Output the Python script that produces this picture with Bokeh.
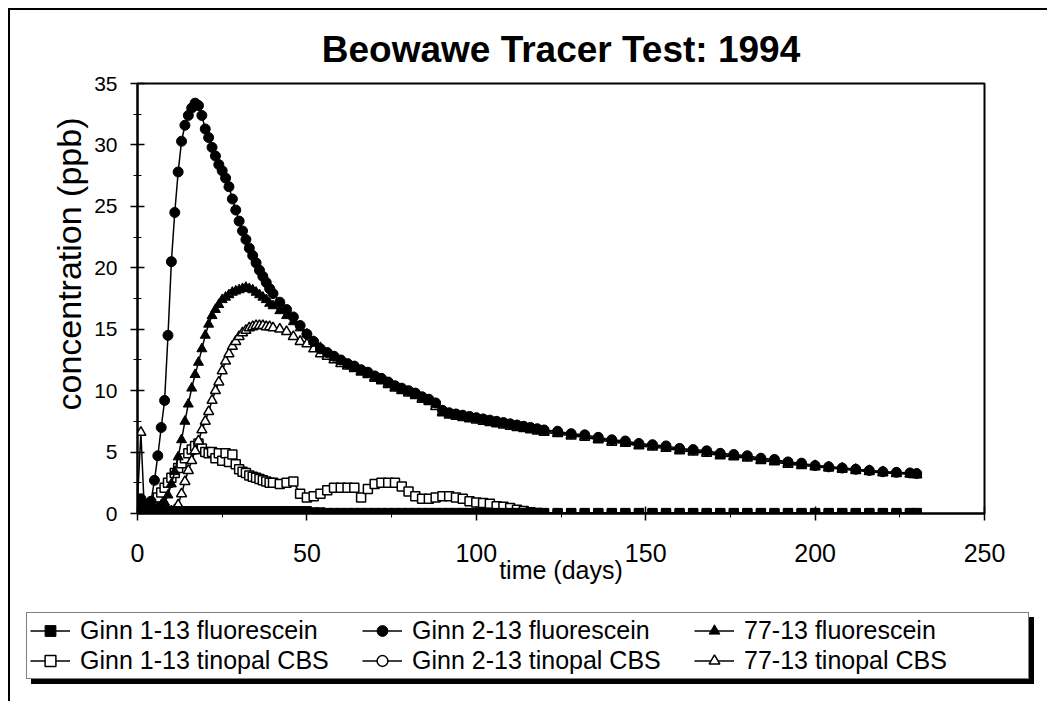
import math
from bokeh.plotting import figure
from bokeh.layouts import column
from bokeh.models import Range1d, Legend, LegendItem, Title, SingleIntervalTicker
from bokeh.embed import file_html
from bokeh.resources import INLINE

# sample days (x values)
days = list(range(0, 41)) + list(range(42, 121, 2)) + list(range(124, 229, 4)) + [230]

# ---- series values (ppb) ----
ginn1_fluor = (
    [0.2, 0.3, 0.3, 0.2, 0.2, 0.2, 0.2, 0.2, 0.2, 0.2, 0.2, 0.2, 0.2, 0.2, 0.2, 0.2, 0.2, 0.2, 0.2, 0.2,
     0.2, 0.2, 0.2, 0.2, 0.2, 0.2, 0.2, 0.2, 0.2, 0.2, 0.2, 0.2, 0.2, 0.2, 0.2, 0.2, 0.2, 0.2, 0.2, 0.2, 0.2]
    + [0.2, 0.2, 0.2, 0.2, 0.2, 0.1, 0.1, 0.05, 0.05, 0.05, 0.05, 0.05, 0.05, 0.05, 0.05, 0.05, 0.05, 0.05, 0.05, 0.05,
       0.05, 0.05, 0.05, 0.05, 0.05, 0.05, 0.05, 0.05, 0.05, 0.05, 0.05, 0.05, 0.05, 0.05, 0.05, 0.05, 0.05, 0.05, 0.05, 0.05]
    + [0.05, 0.05, 0.05, 0.05, 0.05, 0.05, 0.05, 0.05, 0.05, 0.05, 0.05, 0.05, 0.05, 0.05, 0.05, 0.05, 0.05, 0.05, 0.05, 0.05,
       0.05, 0.05, 0.05, 0.05, 0.05, 0.05, 0.05, 0.05]
)

ginn1_tinopal = (
    [0.3, 0.5, 0.3, 0.4, 0.8, 1.0, 1.3, 1.7, 2.1, 2.5, 2.9, 3.3, 3.7, 4.1, 4.5, 4.9, 5.2, 5.5, 5.7, 5.3,
     5.0, 4.9, 5.0, 4.5, 4.9, 4.3, 4.9, 4.2, 4.8, 4.0, 3.6, 3.4, 3.3, 3.1, 3.0, 2.9, 2.8, 2.7, 2.6, 2.5, 2.5]
    + [2.4, 2.5, 2.6, 1.6, 1.3, 1.4, 1.6, 1.9, 2.1, 2.1, 2.1, 2.1, 1.3, 2.0, 2.4, 2.5, 2.5, 2.5, 2.2, 1.8,
       1.4, 1.2, 1.2, 1.3, 1.4, 1.4, 1.3, 1.2, 1.0, 0.9, 0.85, 0.8, 0.6, 0.55, 0.45, 0.3, 0.2, 0.1, 0.05, 0.0]
    + [0.0, 0.0, 0.0, 0.0, 0.0, 0.0, 0.0, 0.0, 0.0, 0.0, 0.0, 0.0, 0.0, 0.0, 0.0, 0.0, 0.0, 0.0, 0.0, 0.0,
       0.0, 0.0, 0.0, 0.0, 0.0, 0.0, 0.0, 0.0]
)

ginn2_fluor = (
    [0.5, 1.2, 0.6, 0.4, 1.0, 2.7, 4.7, 7.0, 9.2, 14.5, 20.5, 24.5, 27.8, 30.3, 31.6, 32.4, 33.0, 33.4, 33.2, 32.4,
     31.3, 30.6, 29.8, 29.1, 28.4, 27.9, 27.3, 26.6, 25.6, 24.7, 23.8, 23.0, 22.3, 21.6, 21.0, 20.4, 19.8, 19.3, 18.8, 18.3, 17.9]
    + [17.2, 16.6, 16.0, 15.3, 14.6, 14.0, 13.4, 13.1, 12.8, 12.5, 12.2, 12.0, 11.7, 11.5, 11.2, 11.0, 10.7, 10.4, 10.2, 10.0,
       9.8, 9.5, 9.3, 9.0, 8.4, 8.2, 8.1, 8.0, 7.9, 7.8, 7.7, 7.6, 7.5, 7.4, 7.3, 7.2, 7.1, 7.0, 6.9, 6.8]
    + [6.7, 6.5, 6.4, 6.2, 6.0, 5.9, 5.7, 5.6, 5.5, 5.3, 5.2, 5.1, 4.9, 4.8, 4.7, 4.5, 4.4, 4.2, 4.1, 3.9,
       3.8, 3.7, 3.6, 3.5, 3.4, 3.35, 3.3, 3.25]
)

ginn2_tinopal = (
    [0.1, 0.1, 0.1, 0.1, 0.1, 0.1, 0.1, 0.1, 0.1, 0.1, 0.1, 0.1, 0.1, 0.1, 0.1, 0.1, 0.1, 0.1, 0.1, 0.1,
     0.1, 0.1, 0.1, 0.1, 0.1, 0.1, 0.1, 0.1, 0.1, 0.1, 0.1, 0.1, 0.1, 0.1, 0.1, 0.1, 0.1, 0.1, 0.1, 0.1, 0.1]
    + [0.1, 0.1, 0.1, 0.1, 0.1, 0.0, 0.0, 0.0, 0.0, 0.0, 0.0, 0.0, 0.0, 0.0, 0.0, 0.0, 0.0, 0.0, 0.0, 0.0,
       0.0, 0.0, 0.0, 0.0, 0.0, 0.0, 0.0, 0.0, 0.0, 0.0, 0.0, 0.0, 0.0, 0.0, 0.0, 0.0, 0.0, 0.0, 0.0, 0.0]
    + [0.0, 0.0, 0.0, 0.0, 0.0, 0.0, 0.0, 0.0, 0.0, 0.0, 0.0, 0.0, 0.0, 0.0, 0.0, 0.0, 0.0, 0.0, 0.0, 0.0,
       0.0, 0.0, 0.0, 0.0, 0.0, 0.0, 0.0, 0.0]
)

w77_fluor = (
    [0.3, 0.9, 0.4, 0.3, 0.3, 0.4, 0.5, 0.7, 0.9, 1.5, 2.4, 3.4, 4.6, 6.0, 7.5, 8.9, 10.2, 11.3, 12.3, 13.4,
     14.5, 15.4, 16.1, 16.6, 17.0, 17.4, 17.6, 17.8, 18.0, 18.1, 18.2, 18.3, 18.4, 18.3, 18.2, 18.0, 17.8, 17.6, 17.4, 17.1, 16.9]
    + [16.5, 16.1, 15.6, 15.1, 14.6, 14.0, 13.5, 13.0, 12.7, 12.4, 12.1, 11.9, 11.6, 11.4, 11.1, 10.9, 10.6, 10.3, 10.1, 9.9,
       9.7, 9.4, 9.2, 8.9, 8.3, 8.1, 8.0, 7.9, 7.8, 7.7, 7.6, 7.5, 7.4, 7.3, 7.2, 7.1, 7.0, 6.9, 6.8, 6.7]
    + [6.6, 6.4, 6.3, 6.1, 5.9, 5.8, 5.6, 5.5, 5.4, 5.2, 5.1, 5.0, 4.8, 4.7, 4.6, 4.4, 4.3, 4.1, 4.0, 3.9,
       3.8, 3.7, 3.6, 3.5, 3.4, 3.3, 3.25, 3.2]
)

w77_tinopal = (
    [1.0, 6.6, 0.4, 0.2, 0.2, 0.2, 0.2, 0.2, 0.2, 0.2, 0.2, 0.3, 0.7, 1.6, 2.6, 3.5, 4.3, 5.1, 5.9, 6.8,
     7.5, 8.3, 9.2, 10.0, 10.7, 11.6, 12.4, 13.0, 13.6, 14.0, 14.4, 14.7, 14.9, 15.1, 15.2, 15.3, 15.3, 15.3, 15.2, 15.2, 15.1]
    + [15.0, 14.8, 14.4, 14.0, 13.8, 13.4, 13.0, 12.8, 12.5, 12.2, 12.0, 11.8, 11.5, 11.3, 11.0, 10.8, 10.5, 10.2, 10.0, 9.8,
       9.6, 9.3, 9.1, 8.7, 8.2, 8.0, 7.9, 7.8, 7.7, 7.6, 7.5, 7.4, 7.3, 7.2, 7.1, 7.0, 6.9, 6.8, 6.7, 6.6]
    + [6.5, 6.3, 6.2, 6.0, 5.8, 5.7, 5.5, 5.4, 5.3, 5.1, 5.0, 4.9, 4.7, 4.6, 4.5, 4.3, 4.2, 4.0, 3.9, 3.8,
       3.7, 3.6, 3.5, 3.4, 3.3, 3.25, 3.2, 3.15]
)

labels = ["Ginn 1-13 fluorescein", "Ginn 1-13 tinopal CBS",
          "Ginn 2-13 fluorescein", "Ginn 2-13 tinopal CBS",
          "77-13 fluorescein", "77-13 tinopal CBS"]
series = [ginn1_fluor, ginn1_tinopal, ginn2_fluor, ginn2_tinopal, w77_fluor, w77_tinopal]
markers = ["square", "square", "circle", "circle", "triangle", "triangle"]
fills = ["black", "white", "black", "white", "black", "white"]
sizes = [9, 9, 10, 9, 10, 10]
# open-marker series are drawn first so that the filled ones lie on top
draw_order = [1, 3, 5, 0, 2, 4]

x_title = "time (days)"
y_title = "concentration (ppb)"
chart_title = "Beowawe Tracer Test: 1994"

FONT = "Liberation Sans"

# ---------------- main chart ----------------
p = figure(width=1039, height=583, output_backend="svg", toolbar_location=None,
           x_range=Range1d(0, 250), y_range=Range1d(0, 35),
           min_border_left=127, min_border_right=65, min_border_top=73, min_border_bottom=80,
           background_fill_color="white", border_fill_color="white")
p.styles = {"border-left": "2px solid black", "border-top": "2px solid black"}
p.frame_align = False

p.title.text = chart_title
p.title.align = "center"
p.title.text_font = FONT
p.title.text_font_size = "37px"
p.title.text_font_style = "bold"
p.title.text_color = "black"
p.title.text_line_height = 0.9
p.title.standoff = 28

p.grid.visible = False
p.outline_line_color = "black"
p.outline_line_width = 2

p.xaxis.ticker = SingleIntervalTicker(interval=50, num_minor_ticks=2)
p.yaxis.ticker = SingleIntervalTicker(interval=5, num_minor_ticks=2)
for ax in (p.xaxis, p.yaxis):
    ax.axis_line_color = "black"
    ax.axis_line_width = 2
    ax.major_tick_line_color = "black"
    ax.minor_tick_line_color = "black"
    ax.major_tick_line_width = 1.5
    ax.major_tick_in = 7
    ax.major_tick_out = 7
    ax.minor_tick_in = 4
    ax.minor_tick_out = 4
    ax.major_label_text_font = FONT
    ax.major_label_text_color = "black"
p.xaxis.major_label_text_font_size = "25px"
p.yaxis.major_label_text_font_size = "21px"
p.xaxis.major_label_standoff = 23
p.yaxis.major_label_standoff = 13

p.xaxis.axis_label = x_title
p.xaxis.axis_label_text_font = FONT
p.xaxis.axis_label_text_font_size = "25px"
p.xaxis.axis_label_text_font_style = "normal"
p.xaxis.axis_label_text_color = "black"
p.xaxis.axis_label_standoff = -9

p.add_layout(Title(text=y_title, align="left", offset=103, standoff=8,
                   text_font=FONT, text_font_size="34px", text_font_style="normal",
                   text_color="black"), "left")

for i in draw_order:
    lw = 1.5 if fills[i] == "white" else 1
    p.line(days, series[i], line_color="black", line_width=1.5)
    p.scatter(days, series[i], marker=markers[i], size=sizes[i], fill_color=fills[i],
              line_color="black", line_width=lw)

# ---------------- legend strip ----------------
q = figure(width=1039, height=110, output_backend="svg", toolbar_location=None,
           x_axis_type=None, y_axis_type=None,
           x_range=Range1d(0, 1), y_range=Range1d(0, 1),
           min_border_left=0, min_border_right=0, min_border_top=0, min_border_bottom=0,
           background_fill_color="white", border_fill_color="white")
q.styles = {"border-left": "2px solid black"}
q.frame_align = False
q.grid.visible = False
q.outline_line_color = None

nan = float("nan")
legend_renderers = []
for mk, fc, sz in zip(markers, fills, sizes):
    lw = 1.5 if fc == "white" else 1
    lr = q.line([nan], [nan], line_color="black", line_width=1.5)
    sr = q.scatter([nan], [nan], marker=mk, size=sz, fill_color=fc, line_color="black", line_width=lw)
    legend_renderers.append([lr, sr])

items = [LegendItem(label=lab, renderers=r) for lab, r in zip(labels, legend_renderers)]
shadow_items = [LegendItem(label="\u00a0", renderers=r) for r in legend_renderers]

def make_legend(its, loc, shadow):
    return Legend(items=its, location=loc, orientation="vertical", ncols=3,
                  label_text_font=FONT, label_text_font_size="25px",
                  glyph_width=40, glyph_height=27, label_height=27, label_standoff=10,
                  label_width=281, spacing=1, padding=3, margin=0,
                  border_line_color="black", border_line_width=1.5,
                  background_fill_color="black" if shadow else "white",
                  background_fill_alpha=1.0, label_text_color="black")

q.add_layout(make_legend(shadow_items, (21, 17), True))
q.add_layout(make_legend(items, (16, 22), False))

layout = column(p, q, spacing=0)
layout.styles = {"margin-left": "8px", "margin-top": "8px"}

open("out.html", "w").write(file_html(layout, INLINE))
